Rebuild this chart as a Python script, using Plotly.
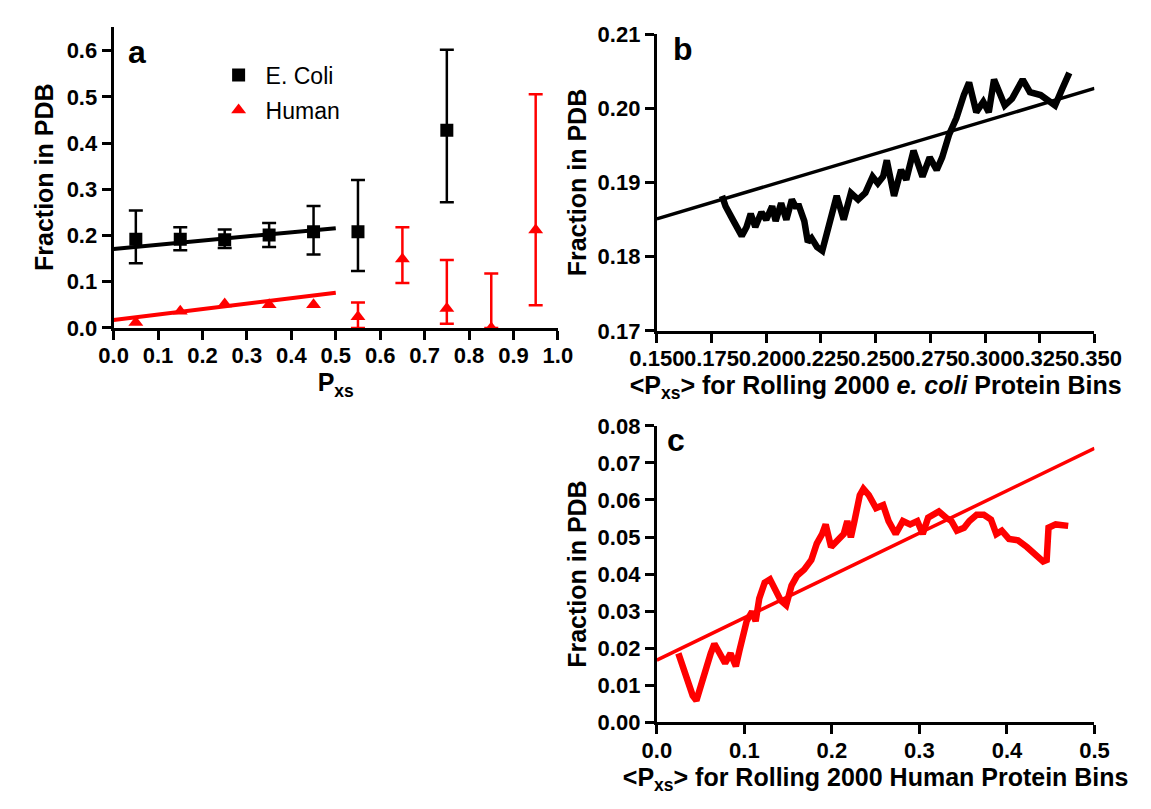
import plotly.graph_objects as go

# ---------------- Panel a data ----------------
ecoli_x = [0.05, 0.15, 0.25, 0.35, 0.45, 0.55, 0.75]
ecoli_y = [0.192, 0.192, 0.191, 0.201, 0.208, 0.208, 0.428]
ecoli_hi = [0.254, 0.218, 0.213, 0.227, 0.264, 0.320, 0.602]
ecoli_lo = [0.140, 0.168, 0.173, 0.175, 0.159, 0.123, 0.272]
ecoli_fit_x = [0.0, 0.5]
ecoli_fit_y = [0.171, 0.216]

human_low_x = [0.05, 0.15, 0.25, 0.35, 0.45]
human_low_y = [0.012, 0.036, 0.052, 0.050, 0.050]
human_x = [0.55, 0.65, 0.75, 0.85, 0.95]
human_y = [0.024, 0.149, 0.042, 0.000, 0.212]
human_hi = [0.055, 0.218, 0.147, 0.118, 0.506]
human_lo = [0.000, 0.097, 0.009, 0.000, 0.049]
human_fit_x = [0.0, 0.5]
human_fit_y = [0.017, 0.076]

# ---------------- Panel b data ----------------
b_x = [0.1798, 0.1814, 0.1847, 0.1888, 0.1910, 0.1929, 0.1950, 0.1978, 0.2000,
       0.2027, 0.2043, 0.2068, 0.2092, 0.2117, 0.2133, 0.2150, 0.2174, 0.2190,
       0.2207, 0.2232, 0.2256, 0.2280, 0.2322, 0.2354, 0.2387, 0.2420, 0.2453,
       0.2486, 0.2510, 0.2534, 0.2551, 0.2584, 0.2616, 0.2640, 0.2673, 0.2714,
       0.2747, 0.2779, 0.2804, 0.2836, 0.2869, 0.2903, 0.2927, 0.2960, 0.2992,
       0.3017, 0.3041, 0.3090, 0.3123, 0.3172, 0.3205, 0.3254, 0.3303, 0.3320,
       0.3352, 0.3385]
b_y = [0.1882, 0.1868, 0.1850, 0.1828, 0.1840, 0.1858, 0.1840, 0.1860, 0.1850,
       0.1868, 0.1848, 0.1872, 0.1850, 0.1877, 0.1868, 0.1868, 0.1848, 0.1820,
       0.1825, 0.1813, 0.1808, 0.1834, 0.1882, 0.1850, 0.1886, 0.1877, 0.1886,
       0.1908, 0.1899, 0.1908, 0.1930, 0.1882, 0.1917, 0.1904, 0.1943, 0.1908,
       0.1934, 0.1917, 0.1934, 0.1965, 0.1987, 0.2018, 0.2035, 0.1995, 0.2009,
       0.1995, 0.2039, 0.2004, 0.2013, 0.2039, 0.2022, 0.2018, 0.2009, 0.2004,
       0.2026, 0.2048]
b_fit_x = [0.150, 0.350]
b_fit_y = [0.1851, 0.2027]

# ---------------- Panel c data ----------------
c_x = [0.0246, 0.0328, 0.0410, 0.0452, 0.0513, 0.0554, 0.0616, 0.0657, 0.0718,
       0.0780, 0.0842, 0.0903, 0.0944, 0.0985, 0.1026, 0.1088, 0.1129, 0.1170,
       0.1232, 0.1293, 0.1355, 0.1416, 0.1478, 0.1539, 0.1601, 0.1683, 0.1765,
       0.1827, 0.1888, 0.1929, 0.1991, 0.2053, 0.2135, 0.2176, 0.2217, 0.2258,
       0.2319, 0.2360, 0.2422, 0.2504, 0.2586, 0.2648, 0.2729, 0.2811, 0.2894,
       0.2976, 0.3038, 0.3099, 0.3161, 0.3222, 0.3305, 0.3366, 0.3428, 0.3510,
       0.3571, 0.3654, 0.3736, 0.3818, 0.3879, 0.3941, 0.4023, 0.4126, 0.4228,
       0.4310, 0.4413, 0.4454, 0.4475, 0.4557, 0.4639, 0.4700]
c_y = [0.0186, 0.0125, 0.0072, 0.0059, 0.0107, 0.0151, 0.0186, 0.0212, 0.0186,
       0.0160, 0.0186, 0.0151, 0.0194, 0.0238, 0.0273, 0.0299, 0.0273, 0.0334,
       0.0377, 0.0386, 0.0360, 0.0329, 0.0316, 0.0369, 0.0395, 0.0412, 0.0438,
       0.0482, 0.0508, 0.0534, 0.0473, 0.0491, 0.0508, 0.0543, 0.0499, 0.0543,
       0.0613, 0.0630, 0.0613, 0.0578, 0.0586, 0.0543, 0.0508, 0.0543, 0.0534,
       0.0543, 0.0508, 0.0552, 0.0560, 0.0569, 0.0552, 0.0543, 0.0517, 0.0525,
       0.0543, 0.0560, 0.0560, 0.0547, 0.0508, 0.0517, 0.0495, 0.0491, 0.0473,
       0.0456, 0.0434, 0.0438, 0.0525, 0.0534, 0.0530, 0.0530]
c_fit_x = [0.0, 0.5]
c_fit_y = [0.0168, 0.0739]

FONT = "Liberation Sans, Arial, Helvetica, sans-serif"
RED = "#ff0000"

fig = go.Figure()

# Panel a
fig.add_trace(go.Scatter(
    x=ecoli_fit_x, y=ecoli_fit_y, mode="lines", line=dict(color="black", width=4),
    showlegend=False, xaxis="x", yaxis="y", hoverinfo="skip"))
fig.add_trace(go.Scatter(
    x=human_fit_x, y=human_fit_y, mode="lines", line=dict(color=RED, width=4),
    showlegend=False, xaxis="x", yaxis="y", hoverinfo="skip"))
fig.add_trace(go.Scatter(
    x=ecoli_x, y=ecoli_y, mode="markers", name="E. Coli", legendgroup="ecoli",
    marker=dict(symbol="square", size=13, color="black"),
    error_y=dict(type="data", symmetric=False,
                 array=[h - y for h, y in zip(ecoli_hi, ecoli_y)],
                 arrayminus=[y - l for l, y in zip(ecoli_lo, ecoli_y)],
                 color="black", thickness=2.5, width=7),
    xaxis="x", yaxis="y"))
fig.add_trace(go.Scatter(
    x=human_low_x, y=human_low_y, mode="markers", name="Human", legendgroup="human",
    marker=dict(symbol="triangle-up", size=13, color=RED),
    xaxis="x", yaxis="y"))
fig.add_trace(go.Scatter(
    x=human_x, y=human_y, mode="markers", name="Human", legendgroup="human",
    showlegend=False,
    marker=dict(symbol="triangle-up", size=13, color=RED),
    error_y=dict(type="data", symmetric=False,
                 array=[h - y for h, y in zip(human_hi, human_y)],
                 arrayminus=[y - l for l, y in zip(human_lo, human_y)],
                 color=RED, thickness=2.5, width=7),
    xaxis="x", yaxis="y"))

# Panel b
fig.add_trace(go.Scatter(
    x=b_fit_x, y=b_fit_y, mode="lines", line=dict(color="black", width=3.5),
    showlegend=False, xaxis="x2", yaxis="y2", hoverinfo="skip"))
fig.add_trace(go.Scatter(
    x=b_x, y=b_y, mode="lines", line=dict(color="black", width=6.5),
    showlegend=False, xaxis="x2", yaxis="y2"))

# Panel c
fig.add_trace(go.Scatter(
    x=c_fit_x, y=c_fit_y, mode="lines", line=dict(color=RED, width=3.5),
    showlegend=False, xaxis="x3", yaxis="y3", hoverinfo="skip"))
fig.add_trace(go.Scatter(
    x=c_x, y=c_y, mode="lines", line=dict(color=RED, width=6.5),
    showlegend=False, xaxis="x3", yaxis="y3"))

W, H = 1151, 809


def axis(domain, rng, dtick, fmt, title, anchor, standoff, lab_off=0):
    return dict(
        domain=domain, range=rng, dtick=dtick, tick0=0, tickformat=fmt,
        anchor=anchor, showline=True, linewidth=3, linecolor="black",
        ticks="outside", ticklen=9, tickwidth=3, tickcolor="black",
        tickangle=0, showgrid=False, zeroline=False, ticklabelstandoff=lab_off,
        tickfont=dict(family=FONT, size=22, color="black", weight="bold"),
        title=dict(text=title, standoff=standoff,
                   font=dict(family=FONT, size=25, color="black", weight="bold")),
    )


fig.update_layout(
    width=W, height=H,
    margin=dict(l=0, r=0, t=0, b=0),
    paper_bgcolor="white", plot_bgcolor="white",
    font=dict(family=FONT, color="black"),
    xaxis=axis([90 / W, 557 / W], [0, 1.0], 0.1, ".1f", "P<sub>xs</sub>", "y", 0, -3),
    yaxis=axis([1 - 326 / H, 1 - 15 / H], [0, 0.6524], 0.1, ".1f", "Fraction in PDB", "x", 6),
    xaxis2=axis([661 / W, 1121 / W], [0.15, 0.35], 0.025, ".3f",
                "&lt;P<sub>xs</sub>&gt; for Rolling 2000 <i>e. coli</i> Protein Bins", "y2", 0, -3),
    yaxis2=axis([1 - 329 / H, 1 - 23 / H], [0.17, 0.21], 0.01, ".2f", "Fraction in PDB", "x2", 4),
    xaxis3=axis([661 / W, 1121 / W], [0, 0.5], 0.1, ".1f",
                "&lt;P<sub>xs</sub>&gt; for Rolling 2000 Human Protein Bins", "y3", 0, -3),
    yaxis3=axis([1 - 733 / H, 1 - 427 / H], [0, 0.08], 0.01, ".2f", "Fraction in PDB", "x3", 4),
    legend=dict(x=193 / W, y=1 - 43 / H, xanchor="left", yanchor="top",
                font=dict(family=FONT, size=23, color="black"),
                bgcolor="rgba(0,0,0,0)", traceorder="grouped", tracegroupgap=2,
                itemwidth=44),
    annotations=[
        dict(text="<b>a</b>", x=115 / W, y=1 - 41 / H, xref="paper", yref="paper",
             xanchor="center", yanchor="middle",
             showarrow=False, font=dict(family=FONT, size=32, color="black")),
        dict(text="<b>b</b>", x=688 / W, y=1 - 38.5 / H, xref="paper", yref="paper",
             xanchor="center", yanchor="middle",
             showarrow=False, font=dict(family=FONT, size=32, color="black")),
        dict(text="<b>c</b>", x=681 / W, y=1 - 442 / H, xref="paper", yref="paper",
             xanchor="center", yanchor="middle",
             showarrow=False, font=dict(family=FONT, size=32, color="black")),
    ],
)

fig.write_html("out.html")
